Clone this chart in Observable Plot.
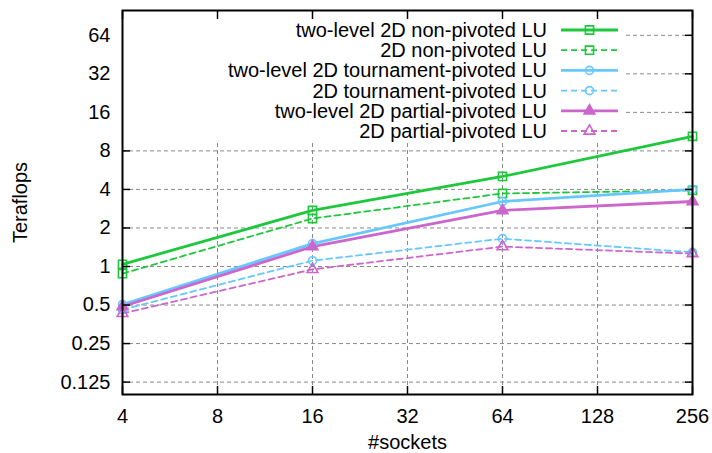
<!DOCTYPE html>
<html>
<head>
<meta charset="utf-8">
<script src="https://cdn.jsdelivr.net/npm/d3@7"></script>
<script src="https://cdn.jsdelivr.net/npm/@observablehq/plot@0.6"></script>
<style>
  html, body { margin: 0; padding: 0; background: #fff; }
  #chart { position: relative; width: 712px; height: 453px; }
</style>
</head>
<body>
<div id="chart"></div>
<script>
// ---- data ----
const sockets = [4, 16, 64, 256];
const seriesNames = [
  "two-level 2D non-pivoted LU",
  "2D non-pivoted LU",
  "two-level 2D tournament-pivoted LU",
  "2D tournament-pivoted LU",
  "two-level 2D partial-pivoted LU",
  "2D partial-pivoted LU"
];
const twoLevelNonPivoted = [1.04, 2.74, 5.05, 10.4];
const nonPivoted = [0.88, 2.37, 3.72, 3.93];
const twoLevelTournament = [0.505, 1.51, 3.22, 4.0];
const tournament = [0.46, 1.11, 1.65, 1.29];
const twoLevelPartial = [0.487, 1.43, 2.74, 3.22];
const partial = [0.43, 0.95, 1.43, 1.26];
const xTicks = [4, 8, 16, 32, 64, 128, 256];
const yTicks = [0.125, 0.25, 0.5, 1, 2, 4, 8, 16, 32, 64];
const yTickLabels = ["0.125", "0.25", "0.5", "1", "2", "4", "8", "16", "32", "64"];

// ---- styles ----
const GREEN = "#1ec83c", BLUE = "#66c8ff", PURPLE = "#cc66cc";
const styles = [
  {stroke: GREEN, width: 2.8, dash: null, symbol: "square", filled: false, r: 4.6},
  {stroke: GREEN, width: 1.8, dash: "6,4", symbol: "square", filled: false, r: 4.6},
  {stroke: BLUE, width: 2.8, dash: null, symbol: "circle", filled: false, r: 4},
  {stroke: BLUE, width: 1.8, dash: "6,4", symbol: "circle", filled: false, r: 4},
  {stroke: PURPLE, width: 2.8, dash: null, symbol: "triangle", filled: true, r: 4},
  {stroke: PURPLE, width: 1.8, dash: "6,4", symbol: "triangle", filled: false, r: 4}
];
const allValues = [twoLevelNonPivoted, nonPivoted, twoLevelTournament, tournament, twoLevelPartial, partial];
const seriesData = allValues.map((vals, i) => sockets.map((s, j) => ({x: s, y: vals[j], series: seriesNames[i]})));

const FONT = "'Liberation Sans', Arial, Helvetica, sans-serif";
const gridStyle = {stroke: "#8a8a8a", strokeOpacity: 1, strokeWidth: 1, strokeDasharray: "4,3"};

const marks = [
  Plot.gridX(xTicks, gridStyle),
  Plot.gridY(yTicks, gridStyle)
];
seriesData.forEach((d, i) => {
  const s = styles[i];
  marks.push(Plot.line(d, {x: "x", y: "y", stroke: s.stroke, strokeWidth: s.width, strokeDasharray: s.dash, strokeLinejoin: "round"}));
});
seriesData.forEach((d, i) => {
  const s = styles[i];
  marks.push(Plot.dot(d, {x: "x", y: "y", symbol: s.symbol, r: s.r, stroke: s.stroke, strokeWidth: 1.6, fill: s.filled ? s.stroke : "none"}));
});
marks.push(
  Plot.axisX(xTicks, {anchor: "bottom", tickSize: -8, tickPadding: 22, stroke: "black", strokeWidth: 1.5, tickFormat: d => String(d), label: "#sockets", labelAnchor: "center", labelArrow: "none", labelOffset: 54}),
  Plot.axisX(xTicks, {anchor: "top", tickSize: -8, stroke: "black", strokeWidth: 1.5, tickFormat: () => "", label: null}),
  Plot.axisY(yTicks, {anchor: "left", tickSize: -8, tickPadding: 20, stroke: "black", strokeWidth: 1.5, tickFormat: d => yTickLabels[yTicks.indexOf(d)], label: "Teraflops", labelAnchor: "center", labelArrow: "none", labelOffset: 110}),
  Plot.axisY(yTicks, {anchor: "right", tickSize: -8, stroke: "black", strokeWidth: 1.5, tickFormat: () => "", label: null}),
  Plot.frame({stroke: "black", strokeWidth: 2})
);

const chart = Plot.plot({
  width: 712,
  height: 453,
  marginLeft: 122,
  marginRight: 20,
  marginTop: 10,
  marginBottom: 59,
  style: {fontFamily: FONT, fontSize: "20px", color: "black", background: "white"},
  x: {type: "log", base: 2, domain: [4, 256]},
  y: {type: "log", base: 2, domain: [0.1, 100]},
  marks
});
document.getElementById("chart").appendChild(chart);

// ---- legend (opaque key, top-left inside the frame) ----
const svg = d3.select(chart);
const legend = svg.append("g").attr("class", "legend");
const boxLeft = 123, boxTop = 11, boxRight = 626, boxBottom = 143;
legend.append("rect")
  .attr("x", boxLeft).attr("y", boxTop)
  .attr("width", boxRight - boxLeft).attr("height", boxBottom - boxTop)
  .attr("fill", "white");
const rowY0 = 30, rowStep = 20.2, textRight = 547, lineX1 = 561, lineX2 = 618;
seriesNames.forEach((name, i) => {
  const s = styles[i];
  const y = rowY0 + i * rowStep;
  legend.append("text")
    .attr("x", textRight).attr("y", y).attr("dy", "0.35em")
    .attr("text-anchor", "end")
    .attr("font-family", FONT).attr("font-size", 20).attr("fill", "black")
    .text(name);
  legend.append("line")
    .attr("x1", lineX1).attr("x2", lineX2).attr("y1", y).attr("y2", y)
    .attr("stroke", s.stroke).attr("stroke-width", s.width)
    .attr("stroke-dasharray", s.dash);
  const sym = {square: d3.symbolSquare, circle: d3.symbolCircle, triangle: d3.symbolTriangle}[s.symbol];
  legend.append("path")
    .attr("transform", `translate(${(lineX1 + lineX2) / 2},${y})`)
    .attr("d", d3.symbol(sym, Math.PI * s.r * s.r)())
    .attr("stroke", s.stroke).attr("stroke-width", 1.6)
    .attr("fill", s.filled ? s.stroke : "none");
});
// keep top ticks/frame above the key box
svg.selectAll("[aria-label='frame'], [aria-label^='x-axis tick']").raise();
</script>
</body>
</html>
